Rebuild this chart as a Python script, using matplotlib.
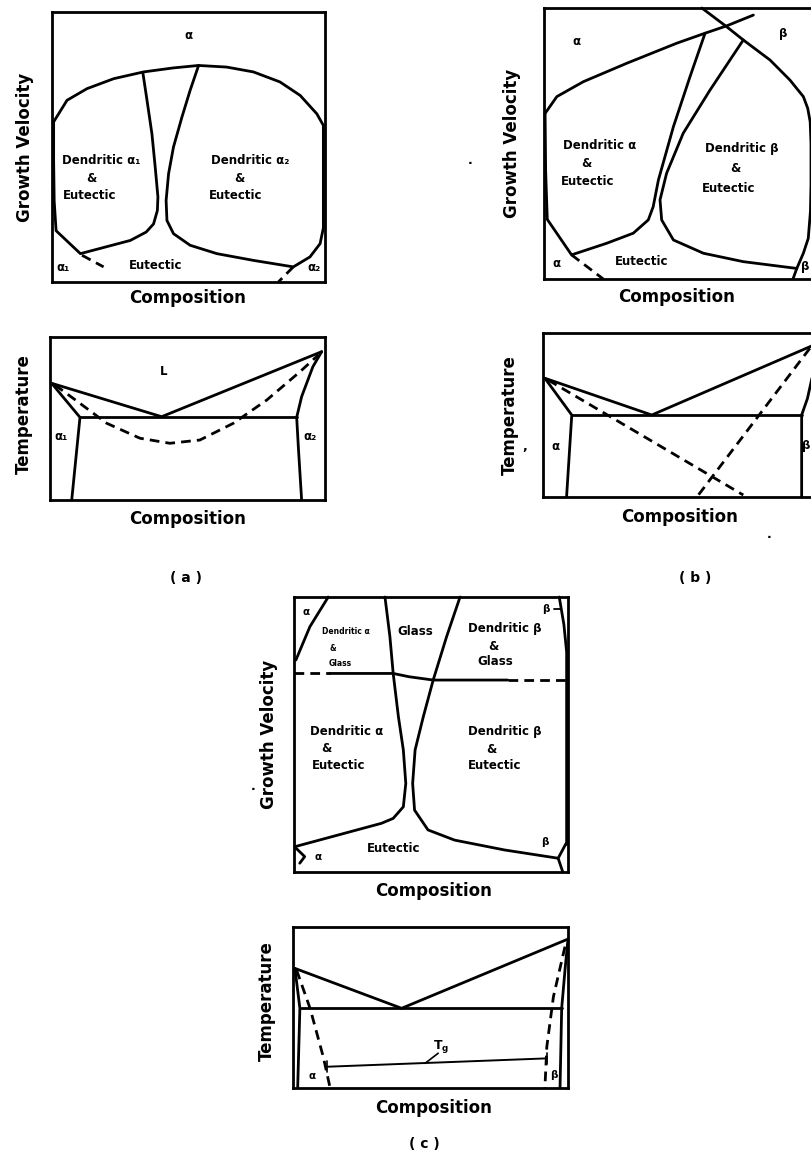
import matplotlib.pyplot as plt

W, H = 811, 1157

# ---- panel (a): growth velocity map (composition 0..1, velocity 0..1)
a_dome = [(.006, .593), (.055, .673), (.128, .716), (.226, .753), (.335, .778), (.445, .793),
          (.537, .802), (.64, .796), (.738, .778), (.835, .741), (.909, .691), (.970, .623), (.994, .58)]
a_left = [(.333, .774), (.348, .673), (.366, .549), (.378, .426), (.388, .315), (.386, .265),
          (.372, .215), (.345, .185), (.287, .154), (.104, .105), (.015, .19), (.008, .3),
          (.006, .45), (.006, .593)]
a_right = [(.537, .802), (.506, .710), (.476, .611), (.445, .5), (.427, .401), (.418, .302),
           (.421, .228), (.445, .179), (.506, .136), (.604, .105), (.738, .080), (.884, .056),
           (.945, .093), (.982, .142), (.994, .2), (.994, .4), (.994, .58)]
a_dash_l = [(.11, .099), (.189, .056)]
a_dash_r = [(.884, .056), (.829, 0.0)]

# ---- panel (a): phase diagram
a_liq = [(.006, .716), (.406, .511), (.988, .91)]
a_eut = [(.109, .507), (.897, .507)]
a_sol_l = [(.006, .716), (.109, .507), (.079, 0.0)]
a_sol_r = [(.988, .91), (.956, .818), (.915, .634), (.897, .507), (.903, .327), (.915, 0.0)]
a_dash = [(.018, .706), (.109, .593), (.206, .471), (.327, .379), (.436, .348), (.545, .368),
          (.667, .471), (.788, .613), (.909, .787), (.976, .89)]

# ---- panel (b): growth velocity map
b_alpha = [(.004, .611), (.047, .673), (.144, .728), (.303, .796), (.486, .870), (.590, .907),
           (.669, .934), (.767, .974)]
b_left = [(.590, .907), (.535, .747), (.474, .562), (.419, .365), (.400, .267), (.382, .218),
          (.327, .169), (.230, .132), (.101, .089), (.012, .22), (.006, .4), (.004, .611)]
b_right = [(.730, .882), (.608, .697), (.510, .538), (.449, .390), (.425, .292), (.431, .218),
           (.474, .144), (.584, .095), (.730, .064), (.926, .039)]
b_beta = [(.578, 1.0), (.669, .931), (.730, .882), (.828, .808), (.901, .734), (.950, .673),
          (.966, .63), (.975, .58), (.978, .5), (.978, .35), (.976, .25), (.968, .15),
          (.95, .095), (.926, .039), (.912, 0.0)]
b_dash = [(.101, .089), (.217, 0.0)]

# ---- panel (b): phase diagram
b_liq = [(.007, .724), (.397, .5), (1.0, .935)]
b_eut = [(.105, .5), (.944, .5)]
b_sol_l = [(.007, .724), (.105, .5), (.086, 0.0)]
b_sol_r = [(1.0, .935), (.985, .75), (.965, .6), (.944, .5), (.944, 0.0)]
b_dash1 = [(.019, .713), (.731, .012)]
b_dash2 = [(.974, .907), (.567, .012)]

# ---- panel (c): growth velocity map
c_alpha = [(.125, 1.0), (.058, .892), (.007, .771)]
c_left = [(.332, 1.0), (.350, .856), (.362, .722), (.381, .565), (.399, .444), (.408, .322),
          (.399, .237), (.362, .195), (.319, .177), (.003, .092)]
c_right = [(.606, 1.0), (.557, .856), (.508, .698), (.472, .565), (.442, .444), (.433, .322),
           (.44, .225), (.489, .153), (.586, .116), (.769, .08), (.964, .05)]
c_beta = [(.968, 1.0), (.985, .9), (.995, .8), (.995, .1)]
c_glass_dl = [(.0, .722), (.13, .722)]
c_glass = [(.13, .722), (.362, .722), (.42, .71), (.508, .698), (.78, .698)]
c_glass_dr = [(.78, .698), (.995, .698)]
c_corner_l = [(.008, .086), (.039, .056), (.021, .032)]
c_corner_r = [(.993, .104), (.964, .05), (.981, 0.0)]
c_beta_tick = [(.95, .955), (.975, .955)]

# ---- panel (c): phase diagram with glass transition
c_liq = [(.007, .743), (.395, .495), (1.0, .925)]
c_eut = [(.025, .495), (.977, .495)]
c_sol_l = [(.007, .743), (.025, .495), (.017, 0.0)]
c_sol_r = [(1.0, .925), (.99, .75), (.977, .495), (.971, 0.0)]
c_dash_l = [(.013, .733), (.062, .495), (.11, .194), (.135, 0.0)]
c_dash_r = [(.989, .878), (.947, .567), (.923, .257), (.916, 0.0)]
c_tg = [(.123, .132), (.923, .184)]
c_tg_lead = [(.48, .153), (.528, .216)]
c_tg_ticks = [[(.123, .1), (.123, .17)], [(.923, .15), (.923, .22)]]

fig = plt.figure(figsize=(W / 100, H / 100), dpi=100)
fig.patch.set_facecolor('white')
LW = 2.0
FONT = dict(fontweight='bold', family='DejaVu Sans')


def panel(x0, y0, x1, y1):
    ax = fig.add_axes([x0 / W, 1 - y1 / H, (x1 - x0) / W, (y1 - y0) / H])
    ax.set_xlim(0, 1)
    ax.set_ylim(0, 1)
    ax.set_xticks([])
    ax.set_yticks([])
    for s in ax.spines.values():
        s.set_linewidth(LW)
    return ax


def line(ax, pts, dashed=False, lw=LW):
    xs, ys = zip(*pts)
    kw = dict(color='black', lw=lw, solid_joinstyle='round', solid_capstyle='round', clip_on=False)
    if dashed:
        kw['dashes'] = (3.5, 2.2)
    ax.plot(xs, ys, **kw)


def lab(ax, u, v, s, size=8.5, ha='center'):
    ax.text(u, v, s, ha=ha, va='center', fontsize=size, **FONT)


def ftext(x, y, s, size=12, rot=0):
    fig.text(x / W, 1 - y / H, s, ha='center', va='center', fontsize=size, rotation=rot, **FONT)


# (a) velocity
ax = panel(52, 12, 325, 282)
for p in (a_dome, a_left, a_right):
    line(ax, p)
line(ax, a_dash_l, True)
line(ax, a_dash_r, True)
lab(ax, .5, .914, 'α')
lab(ax, .18, .451, 'Dendritic α₁')
lab(ax, .143, .383, '&')
lab(ax, .138, .321, 'Eutectic')
lab(ax, .726, .451, 'Dendritic α₂')
lab(ax, .687, .383, '&')
lab(ax, .671, .321, 'Eutectic')
lab(ax, .38, .062, 'Eutectic')
lab(ax, .04, .055, 'α₁')
lab(ax, .96, .055, 'α₂')

# (a) temperature
ax = panel(50, 337, 325, 500)
for p in (a_liq, a_eut, a_sol_l, a_sol_r):
    line(ax, p)
line(ax, a_dash, True)
lab(ax, .412, .787, 'L')
lab(ax, .04, .388, 'α₁')
lab(ax, .945, .388, 'α₂')

# (b) velocity
ax = panel(544, 8, 817, 279)
for p in (b_alpha, b_left, b_right, b_beta):
    line(ax, p)
line(ax, b_dash, True)
lab(ax, .12, .876, 'α')
lab(ax, .877, .907, 'β')
lab(ax, .205, .494, 'Dendritic α')
lab(ax, .154, .427, '&')
lab(ax, .159, .359, 'Eutectic')
lab(ax, .726, .482, 'Dendritic β')
lab(ax, .70, .408, '&')
lab(ax, .675, .335, 'Eutectic')
lab(ax, .358, .064, 'Eutectic')
lab(ax, .047, .058, 'α')
lab(ax, .972, .045, 'β', ha='right')

# (b) temperature
ax = panel(543, 333, 817, 497)
for p in (b_liq, b_eut, b_sol_l, b_sol_r):
    line(ax, p)
line(ax, b_dash1, True)
line(ax, b_dash2, True)
lab(ax, .044, .307, 'α')
lab(ax, .974, .317, 'β', ha='right')

# (c) velocity
ax = panel(294, 597, 568, 872)
for p in (c_alpha, c_left, c_right, c_beta, c_glass, c_corner_l, c_corner_r):
    line(ax, p)
line(ax, c_glass_dl, True)
line(ax, c_glass_dr, True)
line(ax, c_beta_tick, lw=1.3)
lab(ax, .045, .947, 'α', size=7.5)
lab(ax, .19, .874, 'Dendritic α', size=5.5)
lab(ax, .143, .813, '&', size=5.5)
lab(ax, .168, .759, 'Glass', size=5.5)
lab(ax, .442, .874, 'Glass')
lab(ax, .77, .886, 'Dendritic β')
lab(ax, .727, .819, '&')
lab(ax, .734, .765, 'Glass')
lab(ax, .192, .51, 'Dendritic α')
lab(ax, .119, .45, '&')
lab(ax, .162, .389, 'Eutectic')
lab(ax, .77, .51, 'Dendritic β')
lab(ax, .721, .444, '&')
lab(ax, .734, .389, 'Eutectic')
lab(ax, .364, .086, 'Eutectic')
lab(ax, .088, .056, 'α', size=7.5)
lab(ax, .921, .958, 'β', size=7.5)
lab(ax, .916, .11, 'β', size=7.5)

# (c) temperature
ax = panel(293, 927, 568, 1088)
for p in (c_liq, c_eut, c_sol_l, c_sol_r):
    line(ax, p)
line(ax, c_dash_l, True)
line(ax, c_dash_r, True)
line(ax, c_tg, lw=1.4)
line(ax, c_tg_lead, lw=1.2)
for t in c_tg_ticks:
    line(ax, t, lw=1.2)
ax.text(.54, .26, r'$\mathbf{T_g}$', ha='center', va='center', fontsize=9)
lab(ax, .07, .076, 'α', size=7.5)
lab(ax, .947, .081, 'β', size=7.5)

# axis titles
ftext(25, 147, 'Growth Velocity', rot=90)
ftext(512, 143, 'Growth Velocity', rot=90)
ftext(269, 734, 'Growth Velocity', rot=90)
ftext(24, 414, 'Temperature', rot=90)
ftext(510, 415, 'Temperature', rot=90)
ftext(267, 1001, 'Temperature', rot=90)
ftext(188, 298, 'Composition')
ftext(677, 297, 'Composition')
ftext(188, 519, 'Composition')
ftext(680, 517, 'Composition')
ftext(434, 891, 'Composition')
ftext(434, 1108, 'Composition')
ftext(186, 578, '( a )', size=10)
ftext(695, 578, '( b )', size=10)
ftext(424, 1144, '( c )', size=10)

# scan specks
ftext(470, 160, '.', size=9)
ftext(769, 535, '.', size=9)
ftext(525, 447, ',', size=9)
ftext(253, 787, '.', size=9)

fig.savefig('out.png', dpi=100, facecolor='white')
